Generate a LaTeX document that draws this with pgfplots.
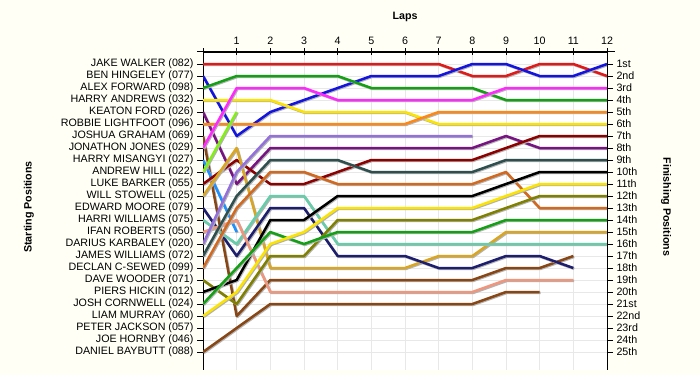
\documentclass[border=0pt]{standalone}
\usepackage{pgfplots}
\pgfplotsset{compat=1.18}
\usepackage{fontspec}
\setmainfont{Liberation Sans}
\definecolor{bgc}{RGB}{255,255,246}
\definecolor{gridc}{RGB}{232,232,232}
\definecolor{cA}{RGB}{225,25,25}
\definecolor{cB}{RGB}{20,20,225}
\definecolor{cC}{RGB}{20,160,20}
\definecolor{cD}{RGB}{252,228,0}
\definecolor{cE}{RGB}{120,20,130}
\definecolor{cF}{RGB}{255,135,20}
\definecolor{cG}{RGB}{135,70,20}
\definecolor{cH}{RGB}{255,40,255}
\definecolor{cI}{RGB}{30,144,255}
\definecolor{cJ}{RGB}{130,240,20}
\definecolor{cK}{RGB}{140,0,0}
\definecolor{cL}{RGB}{218,165,32}
\definecolor{cM}{RGB}{30,30,110}
\definecolor{cN}{RGB}{102,205,170}
\definecolor{cO}{RGB}{240,150,125}
\definecolor{cP}{RGB}{147,112,219}
\definecolor{cQ}{RGB}{47,79,79}
\definecolor{cR}{RGB}{210,105,30}
\definecolor{cS}{RGB}{128,128,0}
\definecolor{cT}{RGB}{0,0,0}
\newcommand{\lbl}{\fontsize{10.7}{12}\selectfont}
\newcommand{\drv}[2]{%
  \addplot[draw=black!30, line width=2.5pt, line join=round, xshift=0.9pt, yshift=-0.9pt] coordinates {#2};
  \addplot[draw=#1, line width=2.5pt, line join=round] coordinates {#2};
}
\pgfplotsset{common/.style={
  at={(203pt,5pt)}, anchor=south west,
  scale only axis, width=404pt, height=318pt,
  xmin=0, xmax=12, ymin=0, ymax=26.5, y dir=reverse,
  axis line style={line width=1pt, -},
  tick label style={font=\lbl, text=black},
  every tick/.style={black, line width=1pt},
}}
\begin{document}
\begin{tikzpicture}[x=1pt,y=1pt]
\fill[bgc] (0,0) rectangle (700,375);
\begin{axis}[common,
  axis background/.style={fill=white},
  axis x line*=top, axis y line*=left,
  xtick={1,2,3,4,5,6,7,8,9,10,11,12},
  xticklabels={},
  xtick style={draw=none},
  ytick={1,2,...,25},
  yticklabels={JAKE WALKER (082),BEN HINGELEY (077),ALEX FORWARD (098),HARRY ANDREWS (032),KEATON FORD (026),ROBBIE LIGHTFOOT (096),JOSHUA GRAHAM (069),JONATHON JONES (029),HARRY MISANGYI (027),ANDREW HILL (022),LUKE BARKER (055),WILL STOWELL (025),EDWARD MOORE (079),HARRI WILLIAMS (075),IFAN ROBERTS (050),DARIUS KARBALEY (020),JAMES WILLIAMS (072),DECLAN C-SEWED (099),DAVE WOODER (071),PIERS HICKIN (012),JOSH CORNWELL (024),LIAM MURRAY (060),PETER JACKSON (057),JOE HORNBY (046),DANIEL BAYBUTT (088)},
  tick align=outside, major tick length=6pt,
  grid=major, grid style={gridc, line width=0.8pt},
]
\drv{cA}{(0,1)(1,1)(2,1)(3,1)(4,1)(5,1)(6,1)(7,1)(8,2)(9,2)(10,1)(11,1)(12,2)}
\drv{cB}{(0,2)(1,7)(2,5)(3,4)(4,3)(5,2)(6,2)(7,2)(8,1)(9,1)(10,2)(11,2)(12,1)}
\drv{cC}{(0,3)(1,2)(2,2)(3,2)(4,2)(5,3)(6,3)(7,3)(8,3)(9,4)(10,4)(11,4)(12,4)}
\drv{cD}{(0,4)(1,4)(2,4)(3,5)(4,5)(5,5)(6,5)(7,6)(8,6)(9,6)(10,6)(11,6)(12,6)}
\drv{cE}{(0,5)(1,11)(2,8)(3,8)(4,8)(5,8)(6,8)(7,8)(8,8)(9,7)(10,8)(11,8)(12,8)}
\drv{cF}{(0,6)(1,6)(2,6)(3,6)(4,6)(5,6)(6,6)(7,5)(8,5)(9,5)(10,5)(11,5)(12,5)}
\drv{cG}{(0,7)(1,22)(2,19)(3,19)(4,19)(5,19)(6,19)(7,19)(8,19)(9,18)(10,18)(11,17)}
\drv{cH}{(0,8)(1,3)(2,3)(3,3)(4,4)(5,4)(6,4)(7,4)(8,4)(9,3)(10,3)(11,3)(12,3)}
\drv{cI}{(0,9)(1,15)}
\drv{cJ}{(0,10)(1,5)}
\drv{cK}{(0,11)(1,9)(2,11)(3,11)(4,10)(5,9)(6,9)(7,9)(8,9)(9,8)(10,7)(11,7)(12,7)}
\drv{cL}{(0,12)(1,8)(2,18)(3,18)(4,18)(5,18)(6,18)(7,17)(8,17)(9,15)(10,15)(11,15)(12,15)}
\drv{cM}{(0,13)(1,17)(2,13)(3,13)(4,17)(5,17)(6,17)(7,18)(8,18)(9,17)(10,17)(11,18)}
\drv{cN}{(0,14)(1,16)(2,12)(3,12)(4,16)(5,16)(6,16)(7,16)(8,16)(9,16)(10,16)(11,16)(12,16)}
\drv{cO}{(0,15)(1,14)(2,20)(3,20)(4,20)(5,20)(6,20)(7,20)(8,20)(9,19)(10,19)(11,19)}
\drv{cP}{(0,16)(1,10)(2,7)(3,7)(4,7)(5,7)(6,7)(7,7)(8,7)}
\drv{cQ}{(0,17)(1,12)(2,9)(3,9)(4,9)(5,10)(6,10)(7,10)(8,10)(9,9)(10,9)(11,9)(12,9)}
\drv{cR}{(0,18)(1,13)(2,10)(3,10)(4,11)(5,11)(6,11)(7,11)(8,11)(9,10)(10,13)(11,13)(12,13)}
\drv{cS}{(0,19)(1,21)(2,17)(3,17)(4,14)(5,14)(6,14)(7,14)(8,14)(9,13)(10,12)(11,12)(12,12)}
\drv{cT}{(0,20)(1,19)(2,14)(3,14)(4,12)(5,12)(6,12)(7,12)(8,12)(9,11)(10,10)(11,10)(12,10)}
\drv{cC}{(0,21)(1,18)(2,15)(3,16)(4,15)(5,15)(6,15)(7,15)(8,15)(9,14)(10,14)(11,14)(12,14)}
\drv{cD}{(0,22)(1,20)(2,16)(3,15)(4,13)(5,13)(6,13)(7,13)(8,13)(9,12)(10,11)(11,11)(12,11)}
\drv{cG}{(0,25)(1,23)(2,21)(3,21)(4,21)(5,21)(6,21)(7,21)(8,21)(9,20)(10,20)}
\end{axis}
\begin{axis}[common,
  axis x line=none, axis y line*=right,
  ytick={1,2,...,25},
  yticklabels={1st,2nd,3rd,4th,5th,6th,7th,8th,9th,10th,11th,12th,13th,14th,15th,16th,17th,18th,19th,20th,21st,22nd,23rd,24th,25th},
  tick align=outside, major tick length=6pt,
]
\end{axis}
\begin{axis}[common,
  axis x line*=top, axis y line=none,
  xtick={0,1,2,3,4,5,6,7,8,9,10,11,12},
  xticklabels={,1,2,3,4,5,6,7,8,9,10,11,12},
  tick align=center, major tick length=7pt,
]
\end{axis}
\draw[line width=1pt] (197,323) -- (615,323);
\node[font=\lbl\bfseries] at (405,358) {Laps};
\node[font=\lbl\bfseries, rotate=90] at (29,168) {Starting Positions};
\node[font=\lbl\bfseries, rotate=-90] at (666,168) {Finishing Positions};
\end{tikzpicture}
\end{document}
